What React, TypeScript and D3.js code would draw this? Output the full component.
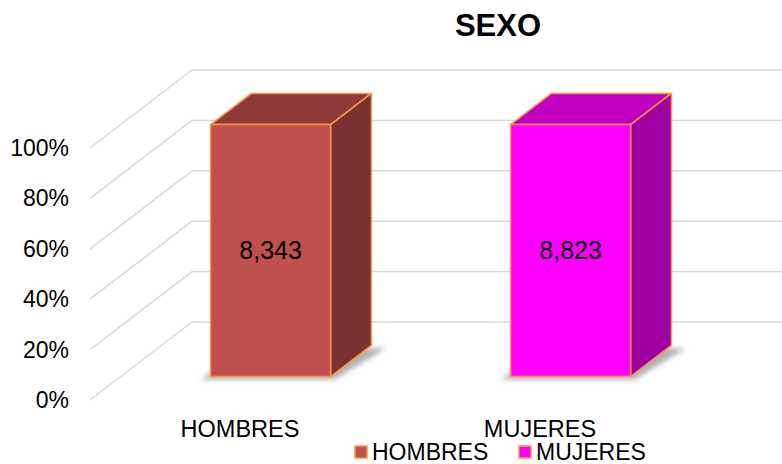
import * as d3 from 'd3'

const categories = ['HOMBRES', 'MUJERES']
const counts = [8343, 8823]
const shares = [1, 1]
const yTicks = [0, 0.2, 0.4, 0.6, 0.8, 1]
const title = 'SEXO'

const frontColors = ['#C0504D', '#FF00FF']
const topColors = ['#8E3A39', '#C000C0']
const sideColors = ['#7A3130', '#A000A0']
const edge = '#F79646'

const width = 782
const height = 464
const font = 'Liberation Sans, Arial, sans-serif'

// depth of the 3d box: back wall offset
const depthX = 102
const depthY = -78
const barFront = 0.3
const barBack = 0.7

const App = () => {
	const x = d3.scaleBand().domain(categories).range([90, 690]).paddingInner(0.6).paddingOuter(0.3)
	const y = d3.scaleLinear().domain([0, 1]).range([400, 148])
	const fmt = d3.format(',')
	const pct = d3.format('.0%')

	const pt = (px: number, py: number, d: number) => [px + d * depthX, py + d * depthY]
	const poly = (pts: number[][]) => pts.map((p) => p.join(',')).join(' ')

	return (
		<svg
			width={width}
			height={height}
			style={{ position: 'absolute', left: 0, top: 0, background: '#fff' }}
			fontFamily={font}
		>
			<defs>
				<filter id="blur" x="-20%" y="-50%" width="140%" height="200%">
					<feGaussianBlur stdDeviation="2.5" />
				</filter>
			</defs>
			<text x={498} y={36} textAnchor="middle" fontSize={31} fontWeight="bold">
				{title}
			</text>

			{/* gridlines: floor diagonal + back wall */}
			{yTicks.map((t) => {
				const [bx, by] = pt(90, y(t), 1)
				return (
					<g key={t} stroke="#D9D9D9" strokeWidth={1.5} fill="none">
						<line x1={90} y1={y(t)} x2={bx} y2={by} />
						<line x1={bx} y1={by} x2={width} y2={by} />
					</g>
				)
			})}
			{yTicks.map((t) => (
				<text key={t} x={69} y={y(t)} dy="0.35em" textAnchor="end" fontSize={23}>
					{pct(t)}
				</text>
			))}

			{categories.map((c, i) => {
				const x0 = x(c)!
				const x1 = x0 + x.bandwidth()
				const y0 = y(0)
				const y1 = y(shares[i])
				const fbl = pt(x0, y0, barFront)
				const fbr = pt(x1, y0, barFront)
				const ftl = pt(x0, y1, barFront)
				const ftr = pt(x1, y1, barFront)
				const btl = pt(x0, y1, barBack)
				const btr = pt(x1, y1, barBack)
				const bbr = pt(x1, y0, barBack)
				const bbl = pt(x0, y0, barBack)
				return (
					<g key={c}>
						<polygon
							points={poly([
								[fbl[0] - 10, fbl[1] + 3],
								[fbr[0] + 4, fbr[1] + 3],
								[bbr[0] + 14, bbr[1] + 3],
								[bbl[0], bbl[1]],
							])}
							fill="#666"
							opacity={0.5}
							filter="url(#blur)"
						/>
						<polygon points={poly([ftl, ftr, btr, btl])} fill={topColors[i]} stroke={edge} strokeWidth={1.5} strokeLinejoin="round" />
						<polygon points={poly([ftr, fbr, bbr, btr])} fill={sideColors[i]} stroke={edge} strokeWidth={1.5} strokeLinejoin="round" />
						<polygon points={poly([ftl, ftr, fbr, fbl])} fill={frontColors[i]} stroke={edge} strokeWidth={1.5} strokeLinejoin="round" />
						<text
							x={(ftl[0] + ftr[0]) / 2}
							y={(ftl[1] + fbl[1]) / 2}
							dy="0.35em"
							textAnchor="middle"
							fontSize={25}
						>
							{fmt(counts[i])}
						</text>
						<text x={x0 + x.bandwidth() / 2} y={437} textAnchor="middle" fontSize={23.5}>
							{c}
						</text>
					</g>
				)
			})}

			{/* legend */}
			{categories.map((c, i) => {
				const lx = [355, 519][i]
				return (
					<g key={c}>
						<rect x={lx} y={446} width={12} height={12} fill={frontColors[i]} stroke={edge} strokeWidth={1.5} />
						<text x={lx + 17} y={460} fontSize={23}>
							{c}
						</text>
					</g>
				)
			})}
		</svg>
	)
}

export default App
